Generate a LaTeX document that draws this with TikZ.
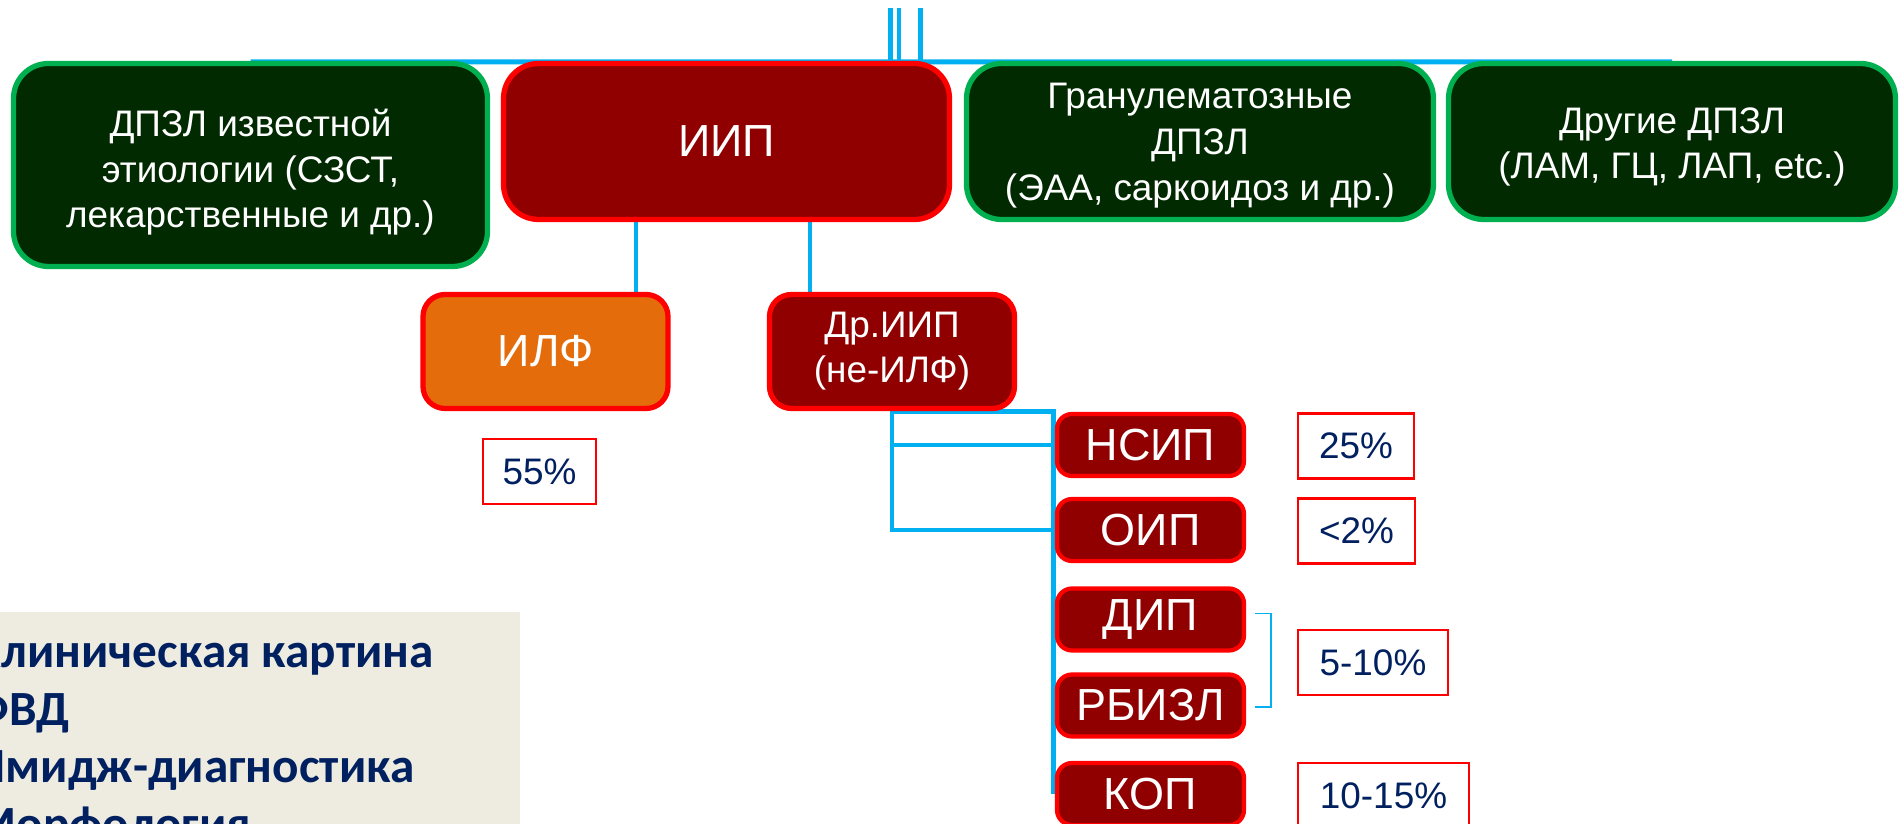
\documentclass[tikz,border=0pt]{standalone}
\usepackage{fontspec}
\setmainfont{Liberation Sans}
\newfontfamily\panelfont{Carlito}
\usepackage{tikz}
\usetikzlibrary{positioning}
\usetikzlibrary{calc}
\usetikzlibrary{backgrounds}

\definecolor{dkgreen}{HTML}{012A01}
\definecolor{grline}{HTML}{00B050}
\definecolor{iipred}{HTML}{910000}
\definecolor{ilforange}{HTML}{E46C0A}
\definecolor{linkblue}{HTML}{00B0F0}
\definecolor{pctnavy}{HTML}{002060}
\definecolor{panelgray}{HTML}{EEECE1}

\tikzset{
  catbox/.style={draw=grline, fill=dkgreen, line width=1.5pt, rounded corners=0.35cm,
    text=white, align=center, inner sep=0pt, font=\fontsize{10.5}{13}\selectfont},
  iipbox/.style={catbox, draw=red, fill=iipred, font=\fontsize{12.8}{15}\selectfont},
  subbox/.style={iipbox, rounded corners=0.22cm, minimum width=2.45cm, minimum height=1.14cm},
  typebox/.style={iipbox, line width=1.2pt, rounded corners=0.15cm, minimum width=1.87cm, minimum height=0.62cm},
  pctbox/.style={draw=red, line width=0.6pt, text=pctnavy, inner sep=0pt, minimum height=0.65cm,
    font=\fontsize{10.5}{13}\selectfont},
  conn/.style={draw=linkblue, line width=1.4pt},
  brace/.style={draw=linkblue, line width=0.5pt},
}

\begin{document}
\begin{tikzpicture}
\useasboundingbox (0,0) rectangle (19.01,-8.24);
\clip (0,0) rectangle (19.01,-8.24);

% top row
\node[catbox, minimum width=4.74cm, minimum height=2.03cm] (known) at (2.505,-1.65) {\rule{0pt}{12pt}ДПЗЛ известной\\этиологии (СЗСТ,\\лекарственные и др.)};
\node[iipbox, minimum width=4.46cm, minimum height=1.56cm] (iip) at (7.265,-1.415) {ИИП};
\node[catbox, minimum width=4.67cm, minimum height=1.56cm] (gran) at (12.0,-1.415) {\rule{0pt}{9.5pt}Гранулематозные\\ДПЗЛ\\(ЭАА, саркоидоз и др.)};
\node[catbox, minimum width=4.47cm, minimum height=1.56cm] (other) at (16.72,-1.415) {\rule{0pt}{10.5pt}Другие ДПЗЛ\\(ЛАМ, ГЦ, ЛАП, etc.)};

% second row
\node[subbox, fill=ilforange] (ilf) at (5.455,-3.515) {ИЛФ};
\node[subbox, font=\fontsize{10.5}{12.8}\selectfont] (driip) at (8.92,-3.515) {Др.ИИП\\(не-ИЛФ)};
\node[pctbox, minimum width=1.13cm] (p55) at (5.395,-4.715) {55\%};

% types
\foreach \name/\y/\txt in {nsip/4.45/НСИП, oip/5.30/ОИП, dip/6.195/ДИП, rbizl/7.055/РБИЗЛ, kop/7.94/КОП}
  \node[typebox] (\name) at (11.505,-\y) {\txt};

\node[pctbox, minimum width=1.16cm] (p25) at (13.56,-4.46) {25\%};
\node[pctbox, minimum width=1.17cm] (p2) at (13.565,-5.31) {<2\%};
\node[pctbox, minimum width=1.50cm] (p510) at (13.73,-6.625) {5-10\%};
\node[pctbox, minimum width=1.71cm] (p1015) at (13.835,-7.955) {10-15\%};

\draw[brace] ([xshift=0.09cm,yshift=0.06cm]dip.east) -| ([xshift=0.25cm,yshift=-0.015cm]rbizl.east) -- ([xshift=0.09cm,yshift=-0.015cm]rbizl.east);

% panel
\fill[panelgray] (0,-6.12) rectangle (5.20,-8.24);
\foreach \txt [count=\i] in {Клиническая картина, ФВД, Имидж-диагностика, Морфология}
  \node[anchor=base west, inner sep=0pt, text=pctnavy, font=\panelfont\bfseries\fontsize{14}{16}\selectfont] (clin\i) at (-0.27,{-6.105-0.575*\i}) {\txt};

\begin{scope}[on background layer]
  \fill[white] (0,0) rectangle (19.01,-8.24);
  \coordinate (in1) at (8.905,-0.08);
  \coordinate (in2) at (8.99,-0.08);
  \coordinate (in3) at (9.205,-0.08);
  \draw[conn] ([yshift=-0.01cm]known.north) -- ([yshift=-0.01cm]other.north);
  \foreach \c in {in1,in2,in3}
    \draw[conn] (\c) -- (\c |- known.north);
  \draw[conn] ([xshift=0.905cm]ilf.north) -- ([xshift=0.905cm]ilf.north |- iip.south);
  \draw[conn] ([xshift=-0.82cm]driip.north) -- ([xshift=-0.82cm]driip.north |- iip.south);
  \foreach \t in {nsip,oip}
    \draw[conn] (driip.south) |- (\t.west);
  \foreach \t in {dip,rbizl,kop}
    \draw[conn] (driip.south) -| ([xshift=-0.01cm]\t.west);
\end{scope}
\end{tikzpicture}
\end{document}
